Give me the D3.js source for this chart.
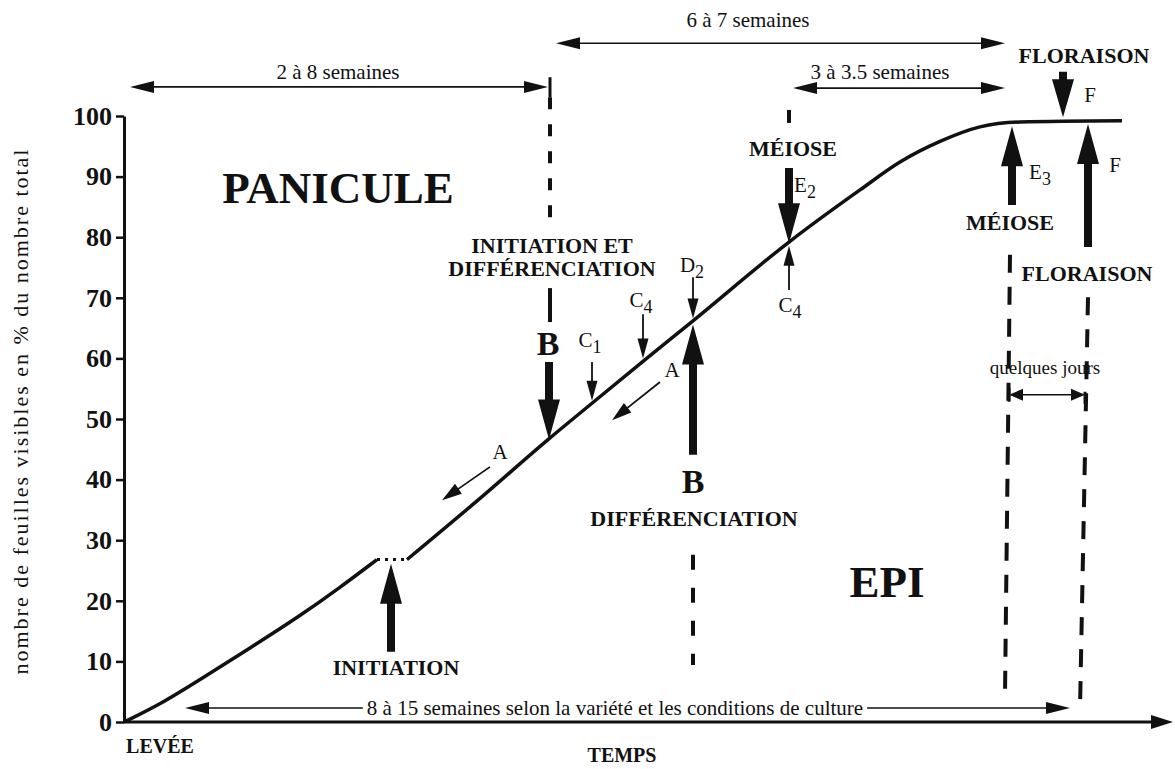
<!DOCTYPE html>
<html>
<head>
<meta charset="utf-8">
<script src="https://d3js.org/d3.v7.min.js"></script>
<style>
body { margin: 0; background: #fff; }
text { font-family: "Liberation Serif", "Times New Roman", serif; fill: #111; }
</style>
</head>
<body>
<script>
// temps en unités arbitraires (0 = levée), valeurs en % du nombre total de feuilles
var curveTime1 = [0, 3.6, 7.6, 12.6, 17.6, 21.6, 25.3];
var curveValue1 = [0, 2.9, 7.0, 12.2, 17.5, 22.2, 26.8];
var curveTime2 = [28.3, 35.6, 42.4, 46.8, 51.9, 56.9, 66.5, 73.6, 77.6, 81.6, 85.6, 89.6, 99.8];
var curveValue2 = [26.8, 36.9, 46.6, 52.6, 59.5, 66.2, 79.2, 87.8, 92.4, 95.8, 98.2, 99.0, 99.2];
var yTicks = [0, 10, 20, 30, 40, 50, 60, 70, 80, 90, 100];

// grosses flèches : [temps, pointe, base]
var bigArrows = [[26.7, 26.1, 11.6], [42.5, 46.6, 59.4], [56.9, 65.6, 44.1], [66.5, 79.0, 91.4],
                 [88.8, 98.3, 85.3], [96.4, 98.7, 78.4], [93.9, 99.8, 107.3]];
// petites flèches : [temps, pointe, base]
var smallArrows = [[46.8, 53.0, 59.4], [51.9, 60.0, 67.3], [56.9, 66.6, 73.4], [66.5, 78.6, 71.3]];
// flèches "A" : [t0, v0, t1, v1]
var slantArrows = [[36.6, 42.1, 31.8, 36.6], [53.6, 56.1, 48.8, 49.8]];
// durées : [t début, t fin, niveau]
var spans = [[0.6, 42.4, 104.8], [43.2, 88.1, 112], [66.9, 88.1, 104.6], [88.5, 96.1, 54], [6.1, 94.6, 2.3]];
// pointillés verticaux : [t haut, v haut, t bas, v bas, tiret, espace]
var dashes = [[42.6, 103.1, 42.6, 81.5, 12, 15], [56.9, 27.6, 56.9, 9.4, 15, 18],
              [66.5, 101, 66.5, 98.8, 13, 10], [88.6, 77.1, 88.1, 4.5, 18, 14], [96.4, 70.1, 95.6, 2.0, 18, 14]];

// textes : [texte, indice, t, v, style]
var labels = [
  ["2 à 8 semaines", "", 21.4, 107.3, "s"],
  ["6 à 7 semaines", "", 62.4, 115.8, "s"],
  ["3 à 3.5 semaines", "", 75.6, 107.3, "s"],
  ["FLORAISON", "", 96.0, 110.1, "b"],
  ["F", "", 96.6, 103.5, "s"],
  ["PANICULE", "", 21.4, 88.1, "h"],
  ["INITIATION ET", "", 42.8, 78.7, "b"],
  ["DIFFÉRENCIATION", "", 42.8, 74.9, "b"],
  ["B", "", 42.4, 62.5, "B"],
  ["C", "1", 46.6, 63.0, "s"],
  ["C", "4", 51.7, 69.6, "s"],
  ["D", "2", 56.8, 75.4, "s"],
  ["MÉIOSE", "", 66.9, 94.7, "b"],
  ["E", "2", 68.1, 88.6, "s"],
  ["C", "4", 66.6, 68.8, "s"],
  ["E", "3", 91.6, 90.8, "s"],
  ["MÉIOSE", "", 88.6, 82.5, "b"],
  ["F", "", 99.1, 91.9, "s"],
  ["FLORAISON", "", 96.3, 74.1, "b"],
  ["quelques jours", "", 92.1, 58.6, "q"],
  ["A", "", 37.6, 44.6, "s"],
  ["A", "", 54.8, 58.1, "s"],
  ["B", "", 56.9, 39.8, "B"],
  ["DIFFÉRENCIATION", "", 57.0, 33.7, "b"],
  ["EPI", "", 76.3, 23.1, "h"],
  ["INITIATION", "", 27.2, 9.1, "b"],
  ["8 à 15 semaines selon la variété et les conditions de culture", "", 49.1, 2.3, "w"],
  ["LEVÉE", "", 3.6, -4.0, "l"],
  ["TEMPS", "", 49.8, -5.5, "l"]
];

var w = 1175, h = 769;
var svg = d3.select("body").append("svg").attr("width", w).attr("height", h);

var xScale = d3.scaleLinear().domain([0, 100]).range([124, 1124]);
var yScale = d3.scaleLinear().domain([0, 100]).range([722, 116]);

// axe des ordonnées
var yAxis = d3.axisLeft(yScale).tickValues(yTicks).tickSize(8).tickSizeOuter(0).tickPadding(4);
var ya = svg.append("g").attr("transform", "translate(" + xScale(0) + ",0)").call(yAxis);
ya.select(".domain").attr("stroke", "#111").attr("stroke-width", 3);
ya.selectAll(".tick line").attr("stroke", "#111").attr("stroke-width", 2.5);
ya.selectAll(".tick text").attr("font-family", "Liberation Serif").attr("font-weight", "bold")
  .attr("font-size", 26).attr("fill", "#111");

svg.append("text").attr("transform", "translate(28,412) rotate(-90)")
  .attr("text-anchor", "middle").attr("font-size", 22)
  .attr("textLength", 525).attr("lengthAdjust", "spacing")
  .text("nombre de feuilles visibles en % du nombre total");

// axe du temps
svg.append("line").attr("x1", xScale(0)).attr("x2", xScale(103.6))
  .attr("y1", yScale(0)).attr("y2", yScale(0)).attr("stroke", "#111").attr("stroke-width", 3);

function head(tx, ty, fx, fy, len, hw) {
  var dx = tx - fx, dy = ty - fy, d = Math.sqrt(dx * dx + dy * dy);
  var ux = dx / d, uy = dy / d, bx = tx - ux * len, by = ty - uy * len;
  return [[tx, ty], [bx - uy * hw, by + ux * hw], [bx + uy * hw, by - ux * hw]];
}
function drawHead(tx, ty, fx, fy, len, hw) {
  svg.append("polygon").attr("points", head(tx, ty, fx, fy, len, hw).join(" ")).attr("fill", "#111");
}
drawHead(xScale(104.9), yScale(0), xScale(100), yScale(0), 22, 7);

// courbe
var line1 = d3.line().x(function(d){ return xScale(d[0]); }).y(function(d){ return yScale(d[1]); })
  .curve(d3.curveBasis);
var line = d3.line().x(function(d){ return xScale(d[0]); }).y(function(d){ return yScale(d[1]); })
  .curve(d3.curveMonotoneX);
var part1 = curveTime1.map(function(t, i){ return [t, curveValue1[i]]; });
var part2 = curveTime2.map(function(t, i){ return [t, curveValue2[i]]; });
svg.append("path").attr("d", line1(part1)).attr("fill", "none").attr("stroke", "#111").attr("stroke-width", 3.5);
svg.append("path").attr("d", line(part2)).attr("fill", "none").attr("stroke", "#111").attr("stroke-width", 3.5);
svg.append("path").attr("d", line([part1[part1.length - 1], part2[0]])).attr("fill", "none")
  .attr("stroke", "#111").attr("stroke-width", 3).attr("stroke-dasharray", "3,5");

// pointillés verticaux
dashes.forEach(function(d){
  svg.append("line").attr("x1", xScale(d[0])).attr("y1", yScale(d[1]))
    .attr("x2", xScale(d[2])).attr("y2", yScale(d[3]))
    .attr("stroke", "#111").attr("stroke-width", 4).attr("stroke-dasharray", d[4] + "," + d[5]);
});
// trait sous "INITIATION ET DIFFÉRENCIATION" et butée de la flèche 2 à 8 semaines
svg.append("line").attr("x1", xScale(42.6)).attr("x2", xScale(42.6)).attr("y1", yScale(71.6)).attr("y2", yScale(66))
  .attr("stroke", "#111").attr("stroke-width", 4);
svg.append("line").attr("x1", xScale(42.6)).attr("x2", xScale(42.6)).attr("y1", yScale(106.4)).attr("y2", yScale(103.1))
  .attr("stroke", "#111").attr("stroke-width", 3);

// grosses flèches
bigArrows.forEach(function(a, i){
  var x = xScale(a[0]), yt = yScale(a[1]), yb = yScale(a[2]);
  var dir = yb > yt ? 1 : -1, hl = i == 6 ? 38 : 40, hw = 11, sw = 4;
  var yh = yt + dir * hl;
  var pts = [[x, yt], [x + hw, yh], [x + sw, yh], [x + sw, yb], [x - sw, yb], [x - sw, yh], [x - hw, yh]];
  svg.append("polygon").attr("points", pts.join(" ")).attr("fill", "#111");
});

// petites flèches
smallArrows.forEach(function(a){
  var x = xScale(a[0]), yt = yScale(a[1]), yb = yScale(a[2]);
  var dir = yb > yt ? 1 : -1;
  svg.append("line").attr("x1", x).attr("x2", x).attr("y1", yb).attr("y2", yt + dir * 12)
    .attr("stroke", "#111").attr("stroke-width", 1.8);
  drawHead(x, yt, x, yb, 20, 5.5);
});

slantArrows.forEach(function(a){
  var x0 = xScale(a[0]), y0 = yScale(a[1]), x1 = xScale(a[2]), y1 = yScale(a[3]);
  svg.append("line").attr("x1", x0).attr("y1", y0).attr("x2", (x0 + x1 * 3) / 4).attr("y2", (y0 + y1 * 3) / 4)
    .attr("stroke", "#111").attr("stroke-width", 1.8);
  drawHead(x1, y1, x0, y0, 20, 6);
});

// durées
spans.forEach(function(s, i){
  var x0 = xScale(s[0]), x1 = xScale(s[1]), y = yScale(s[2]);
  var hl = i == 3 ? 14 : 24;
  svg.append("line").attr("x1", x0 + 5).attr("x2", x1 - 5).attr("y1", y).attr("y2", y)
    .attr("stroke", "#111").attr("stroke-width", 1.6);
  drawHead(x0, y, x1, y, hl, 6);
  drawHead(x1, y, x0, y, hl, 6);
  if (i == 3) {
    svg.append("line").attr("x1", x0).attr("x2", x0).attr("y1", y - 7).attr("y2", y + 7).attr("stroke", "#111").attr("stroke-width", 3);
    svg.append("line").attr("x1", x1).attr("x2", x1).attr("y1", y - 3).attr("y2", y + 9).attr("stroke", "#111").attr("stroke-width", 3);
  }
});

// textes
var styles = {
  s: { size: 21, weight: "normal" },
  q: { size: 19, weight: "normal" },
  w: { size: 21, weight: "normal" },
  b: { size: 22, weight: "bold" },
  l: { size: 20, weight: "bold" },
  B: { size: 34, weight: "bold" },
  h: { size: 45, weight: "bold" }
};
labels.forEach(function(l){
  var st = styles[l[4]];
  var t = svg.append("text").attr("x", xScale(l[2])).attr("y", yScale(l[3]))
    .attr("text-anchor", "middle").attr("dominant-baseline", "central")
    .attr("font-size", st.size).attr("font-weight", st.weight);
  t.append("tspan").text(l[0]);
  if (l[1]) t.append("tspan").attr("dy", 7).attr("font-size", st.size - 3).text(l[1]);
  if (l[4] == "w") {
    var bb = t.node().getBBox();
    svg.insert("rect", function(){ return t.node(); }).attr("x", bb.x - 4).attr("y", bb.y + 3)
      .attr("width", bb.width + 8).attr("height", bb.height - 6).attr("fill", "#fff");
  }
});
</script>
</body>
</html>
